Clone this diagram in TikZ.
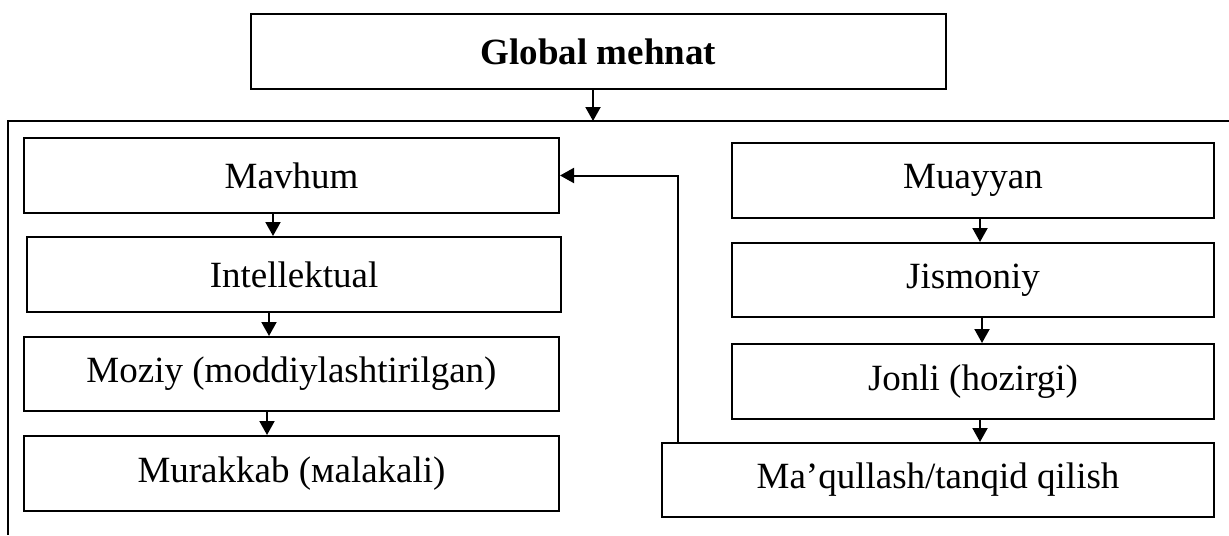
\documentclass[tikz,border=0pt]{standalone}
\usepackage{fontspec}
\setmainfont{Liberation Serif}
\usetikzlibrary{arrows.meta}

\tikzset{
    blok/.style={draw, line width=1pt, rectangle, inner sep=0pt, minimum height=37.5pt,
        font=\fontsize{18.5pt}{22pt}\selectfont},
    arr/.style={line width=1pt, -{Triangle[length=7pt,width=7.5pt]}}
}

\begin{document}
\begin{tikzpicture}[x=0.5pt, y=-0.5pt]
        \useasboundingbox (0,0) rectangle (1229,535);
        %
        \node[blok, minimum width=347.5pt, font=\fontsize{18.5pt}{22pt}\selectfont\bfseries] (global) at (598.5,51.5) {Global mehnat};
        \coordinate (barL) at (8,121);
        \coordinate (barR) at (1229,121);
        \coordinate (barB) at (8,535);
        \draw[line width=1pt] (barR) -- (barL) -- (barB);
        \draw[arr] (global.south -| 593,0) -- (barL -| 593,0);
        %
        \node[blok, minimum width=267.5pt] (mavhum) at (291.5,175.5) {Mavhum};
        \node[blok, minimum width=267pt] (intel) at (294,274.5) {Intellektual};
        \node[blok, minimum width=267.5pt, minimum height=37pt] (moziy) at (291.5,374) {Moziy (moddiylashtirilgan)};
        \node[blok, minimum width=267.5pt] (murakkab) at (291.5,473.5) {Murakkab (мalakali)};
        \draw[arr] (mavhum.south -| 273,0) -- (intel.north -| 273,0);
        \draw[arr] (intel.south -| 269,0) -- (moziy.north -| 269,0);
        \draw[arr] (moziy.south -| 267,0) -- (murakkab.north -| 267,0);
        %
        \node[blok, minimum width=241pt] (muayyan) at (973,180.5) {Muayyan};
        \node[blok, minimum width=241pt, minimum height=37pt] (jismoniy) at (973,280) {Jismoniy};
        \node[blok, minimum width=241pt] (jonli) at (973,381.5) {Jonli (hozirgi)};
        \node[blok, minimum width=276pt, minimum height=37pt] (maqul) at (938,480) {Ma’qullash/tanqid qilish};
        \draw[arr] (muayyan.south -| 980,0) -- (jismoniy.north -| 980,0);
        \draw[arr] (jismoniy.south -| 982,0) -- (jonli.north -| 982,0);
        \draw[arr] (jonli.south -| 980,0) -- (maqul.north -| 980,0);
        %
        \draw[arr] (maqul.north -| 678,0) |- (mavhum.east);
    \end{tikzpicture}
\end{document}
